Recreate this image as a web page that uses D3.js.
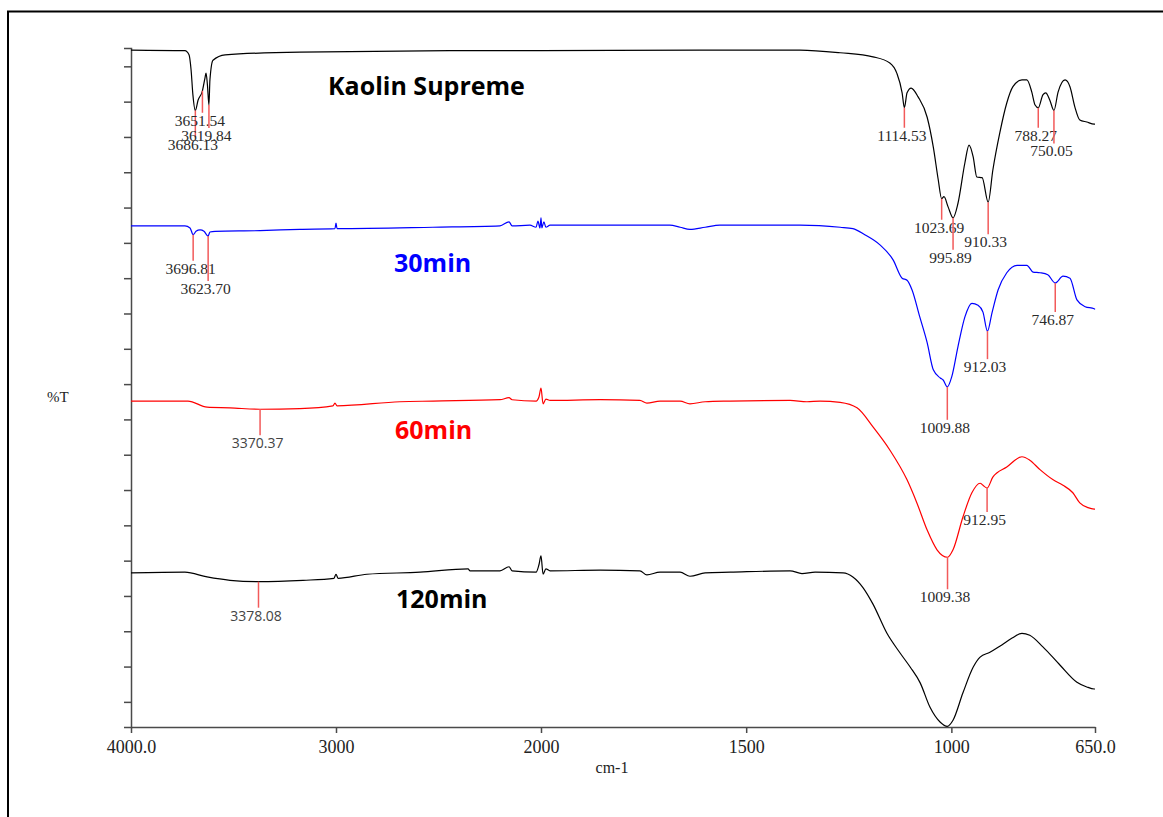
<!DOCTYPE html>
<html>
<head>
<meta charset="utf-8">
<script src="https://cdn.jsdelivr.net/npm/d3@7"></script>
<style>
  body { margin: 0; background: #fff; }
</style>
</head>
<body>
<div class="chart-container"></div>
<script>
// --- Data (wavenumber cm-1, %T offset) ---

const seriesNames = ["Kaolin Supreme", "30min", "60min", "120min"];

const kaolin = [
  [4000, 99.7], [3737, 99.6], [3717, 99.0], [3707, 96.8], [3698, 93.1], [3686.13, 90.8],
  [3673, 92.3], [3651.54, 93.7], [3639, 95.6], [3634, 96.3], [3627, 94.5], [3619.84, 91.6],
  [3615, 95.3], [3600, 98.2], [3541, 99.0], [3176, 99.4], [2444, 99.6], [2000, 99.6],
  [1613, 99.7], [1369, 99.7], [1271, 99.3], [1191, 98.7], [1150, 97.8], [1133, 96.3],
  [1120, 93.4], [1114.53, 91.2], [1108, 93.4], [1098, 94.1], [1081, 92.8], [1059, 89.8],
  [1044, 85.4], [1032, 80.6], [1023.69, 77.8], [1018, 78.1], [1008, 76.6], [995.89, 75.0],
  [984, 77.1], [967, 83.1], [957, 85.7], [947, 84.0], [938, 81.0], [925, 80.9],
  [910.33, 77.3], [899, 82.0], [882, 87.5], [865, 91.9], [850, 94.3], [828, 95.3],
  [816, 95.3], [804, 93.5], [796, 91.6], [788.27, 91.2], [777, 93.1], [770, 93.4],
  [760, 92.3], [750.05, 90.8], [740, 93.5], [723, 95.3], [711, 94.3], [699, 91.3],
  [687, 89.4], [670, 89.1], [652, 88.8], [650, 88.8]
];

const min30 = [
  [4000, 73.8], [3737, 73.8], [3712, 73.5], [3696.81, 72.5], [3683, 73.0], [3663, 73.2],
  [3644, 73.0], [3623.70, 72.3], [3615, 72.9], [3590, 73.0], [3371, 73.1], [3176, 73.3],
  [3005, 73.4], [3000, 74.2], [2995, 73.4], [2527, 73.6], [2200, 73.8], [2156, 74.4],
  [2141, 73.8], [2054, 73.9], [2024, 73.6], [2015, 74.5], [2005, 73.5], [2000, 75.0],
  [1998, 73.5], [1993, 74.4], [1988, 73.6], [1978, 73.9], [1856, 73.9], [1686, 73.9],
  [1661, 73.6], [1637, 73.3], [1600, 73.6], [1564, 73.9], [1369, 73.9], [1271, 73.6],
  [1240, 73.4], [1211, 72.5], [1174, 71.0], [1142, 68.8], [1120, 66.1], [1108, 65.8],
  [1096, 64.4], [1077, 60.4], [1059, 56.6], [1044, 52.6], [1027, 51.4], [1020, 51.1],
  [1009.88, 50.1], [999, 51.6], [984, 56.0], [967, 60.4], [950, 62.4], [935, 62.1],
  [923, 61.1], [912.03, 58.3], [901, 61.0], [886, 64.4], [865, 66.9], [840, 68.0],
  [816, 68.0], [801, 67.0], [784, 66.9], [765, 66.6], [746.87, 65.4], [728, 66.4],
  [711, 66.1], [694, 62.9], [674, 61.9], [652, 61.6], [650, 61.5]
];

const min60 = [
  [4000, 48.0], [3722, 48.0], [3629, 47.1], [3517, 47.0], [3370.37, 46.8], [3176, 46.9],
  [3015, 47.3], [3005, 47.7], [2995, 47.3], [2688, 47.9], [2527, 48.0], [2200, 48.2],
  [2156, 48.5], [2141, 48.2], [2024, 48.0], [2010, 48.6], [2000, 49.9], [1995, 47.6],
  [1988, 48.3], [1978, 48.1], [1856, 48.2], [1759, 48.1], [1742, 47.7], [1710, 48.0],
  [1661, 48.0], [1637, 47.6], [1600, 47.9], [1539, 48.0], [1393, 48.1], [1352, 47.9],
  [1320, 48.0], [1271, 47.8], [1230, 47.0], [1191, 44.2], [1150, 40.8], [1108, 36.4],
  [1084, 33.0], [1059, 29.0], [1035, 26.1], [1009.38, 25.0], [996, 26.1], [972, 30.9],
  [950, 34.5], [930, 35.9], [923, 35.6], [912.95, 35.2], [899, 36.8], [865, 38.3],
  [828, 39.8], [809, 39.3], [784, 37.9], [752, 36.4], [728, 35.6], [704, 34.5],
  [687, 33.0], [667, 32.3], [652, 32.1], [650, 32.1]
];

const min120 = [
  [4000, 22.7], [3737, 22.8], [3629, 22.1], [3517, 21.6], [3378.08, 21.4], [3161, 21.6],
  [3010, 21.9], [3000, 22.5], [2990, 21.9], [2849, 22.5], [2590, 22.8], [2356, 23.3],
  [2346, 23.0], [2200, 23.0], [2156, 23.6], [2141, 23.0], [2024, 22.8], [2010, 23.9],
  [2000, 25.2], [1995, 22.5], [1988, 23.3], [1978, 23.0], [1856, 23.1], [1759, 23.0],
  [1742, 22.4], [1710, 22.8], [1661, 22.8], [1637, 22.2], [1600, 22.7], [1539, 22.8],
  [1393, 23.0], [1364, 22.6], [1332, 22.8], [1264, 22.7], [1240, 22.1], [1215, 20.5],
  [1191, 18.1], [1157, 13.8], [1125, 10.9], [1100, 8.8], [1076, 6.5], [1052, 2.9],
  [1027, 0.7], [1010, 0.1], [996, 1.0], [972, 5.0], [947, 8.8], [930, 10.3],
  [906, 11.0], [882, 11.9], [852, 13.1], [828, 13.8], [809, 13.5], [777, 11.8],
  [735, 9.1], [694, 6.6], [670, 5.9], [652, 5.6], [650, 5.6]
];

// picked peaks per spectrum
const kaolinPeaks = [3686.13, 3651.54, 3619.84, 1114.53, 1023.69, 995.89, 910.33, 788.27, 750.05];
const min30Peaks = [3696.81, 3623.70, 1009.88, 912.03, 746.87];
const min60Peaks = [3370.37, 1009.38, 912.95];
const min120Peaks = [3378.08];

// axis ticks
const xTickValues = [4000, 3000, 2000, 1500, 1000, 650];
const xTickLabels = ["4000.0", "3000", "2000", "1500", "1000", "650.0"];
const yTickValues = [3.7, 8.9, 14.1, 19.3, 24.5, 29.7, 34.9, 40.1, 45.3, 50.5,
  55.7, 60.9, 66.1, 71.3, 76.5, 81.7, 86.9, 92.1, 97.3];

// --- Layout ---
const w = 1163;
const h = 817;
const colors = ["#000000", "#0000ff", "#ff0000", "#000000"];
// label drop (px) below each peak, same order as the peak lists
const peakDrops = [
  [40, 35, 36, 33, 34, 45, 45, 33, 46],
  [39, 58, 46, 41, 42],
  [39, 45, 37],
  [39]
];
const nameX = [328, 394, 395, 396];
const nameY = [95, 272, 439, 608];
const sansPeaks = ["3370.37", "3378.08"];

// --- Scales (spectrometer scale changes at 2000) ---
const xScale = d3.scaleLinear()
    .domain([4000, 2000, 650])
    .range([131, 541, 1095]);

const yScale = d3.scaleLinear()
    .domain([0, 100])
    .range([727, 48]);

const svg = d3.select(".chart-container")
    .append("svg")
    .attr("width", w)
    .attr("height", h);

svg.append("rect")
    .attr("width", w).attr("height", h)
    .attr("fill", "#fff");

// outer frame
svg.append("rect")
    .attr("x", 8).attr("y", 11.5)
    .attr("width", 1300).attr("height", 1000)
    .attr("fill", "none")
    .attr("stroke", "#000")
    .attr("stroke-width", 2);

// axes
const xAxis = d3.axisBottom(xScale)
    .tickValues(xTickValues)
    .tickFormat(function (d, i) { return xTickLabels[i]; })
    .tickSize(6)
    .tickSizeOuter(0);

const yAxis = d3.axisLeft(yScale)
    .tickValues(yTickValues)
    .tickFormat(function () { return ""; })
    .tickSize(7)
    .tickSizeOuter(7);

const gx = svg.append("g")
    .attr("transform", "translate(0," + yScale(0) + ")")
    .call(xAxis);
gx.selectAll("text")
    .attr("y", 13)
    .attr("font-family", "'Liberation Serif', 'Times New Roman', serif")
    .attr("font-size", "18px")
    .attr("fill", "#222");

const gy = svg.append("g")
    .attr("transform", "translate(" + xScale(4000) + ",0)")
    .call(yAxis);

svg.selectAll(".domain, .tick line")
    .attr("stroke", "#4a4a4a")
    .attr("stroke-width", 1.5);

svg.append("text")
    .attr("x", 612).attr("y", 773)
    .attr("text-anchor", "middle")
    .attr("font-family", "'Liberation Serif', serif")
    .attr("font-size", "16px")
    .attr("fill", "#222")
    .text("cm-1");

svg.append("text")
    .attr("x", 47).attr("y", 402)
    .attr("font-family", "'Liberation Serif', serif")
    .attr("font-size", "15px")
    .attr("fill", "#222")
    .text("%T");

// spectra
const allSeries = [kaolin, min30, min60, min120];
const allPeaks = [kaolinPeaks, min30Peaks, min60Peaks, min120Peaks];

const line = d3.line()
    .x(function (d) { return xScale(d[0]); })
    .y(function (d) { return yScale(d[1]); })
    .curve(d3.curveMonotoneX);

function valueAt(series, wn) {
  for (let i = 0; i < series.length - 1; i++) {
    const a = series[i], b = series[i + 1];
    if (wn <= a[0] && wn >= b[0]) {
      const t = (a[0] - wn) / (a[0] - b[0] || 1);
      return a[1] + t * (b[1] - a[1]);
    }
  }
  return series[series.length - 1][1];
}

allSeries.forEach(function (s, i) {
  svg.append("path")
      .datum(s)
      .attr("fill", "none")
      .attr("stroke", colors[i])
      .attr("stroke-width", 1.2)
      .attr("d", line);
});

// peak markers + labels
allPeaks.forEach(function (peaks, i) {
  const g = svg.append("g");
  peaks.forEach(function (p, j) {
    const px = xScale(p);
    const py = yScale(valueAt(allSeries[i], p));
    const base = py + peakDrops[i][j];
    const label = p.toFixed(2);
    g.append("line")
        .attr("x1", px).attr("x2", px)
        .attr("y1", py).attr("y2", base - 13)
        .attr("stroke", "#f25a5a")
        .attr("stroke-width", 1.5);
    const isSans = sansPeaks.indexOf(label) >= 0;
    g.append("text")
        .attr("x", px - 2.5).attr("y", base)
        .attr("text-anchor", "middle")
        .attr("font-family", isSans ? "'Open Sans', sans-serif" : "'Liberation Serif', serif")
        .attr("font-size", isSans ? "14px" : "15.5px")
        .attr("fill", isSans ? "#444" : "#2a2a2a")
        .text(label);
  });
});

// series names
seriesNames.forEach(function (name, i) {
  svg.append("text")
      .attr("x", nameX[i]).attr("y", nameY[i])
      .attr("font-family", "'Open Sans', sans-serif")
      .attr("font-weight", "bold")
      .attr("font-size", "25px")
      .attr("fill", colors[i])
      .text(name);
});
</script>
</body>
</html>
